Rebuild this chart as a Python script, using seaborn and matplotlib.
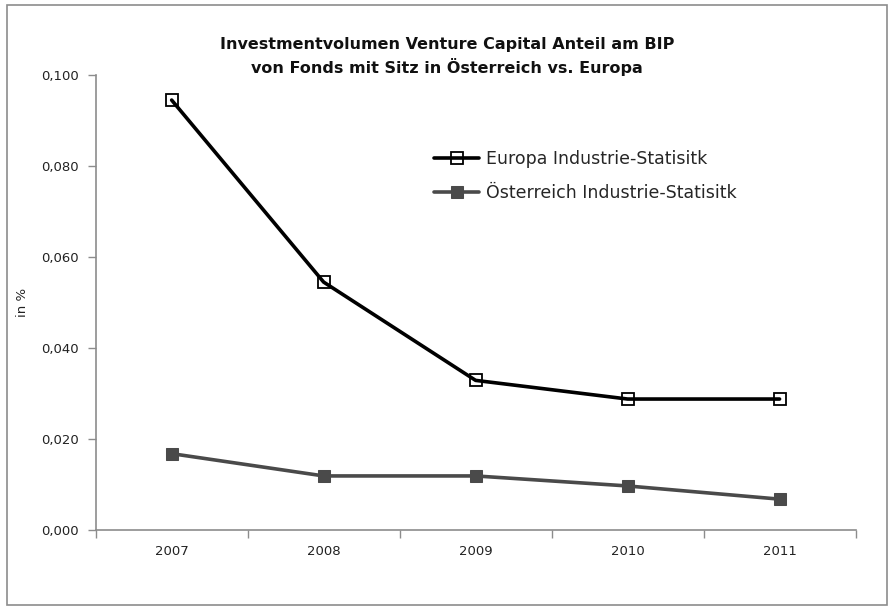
import matplotlib
matplotlib.use("Agg")
import matplotlib.pyplot as plt
import seaborn as sns
import pandas as pd
from matplotlib.patches import Rectangle
from matplotlib.ticker import FuncFormatter, FixedLocator

years = ["2007", "2008", "2009", "2010", "2011"]
europa = [0.0945, 0.0545, 0.0329, 0.0288, 0.0288]
oesterreich = [0.0168, 0.0119, 0.0119, 0.0097, 0.0068]
series_names = ["Europa Industrie-Statisitk", "Österreich Industrie-Statisitk"]

sns.set_theme(style="white")
plt.rcParams['font.family'] = ['DejaVu Sans']

fig = plt.figure(figsize=(8.94, 6.10), dpi=100)
ax = fig.add_axes([0.107, 0.131, 0.850, 0.746])

df = pd.DataFrame({
    "x": list(range(len(years))) * 2,
    "value": europa + oesterreich,
    "series": [series_names[0]] * len(years) + [series_names[1]] * len(years),
})

d1 = df[df.series == series_names[0]]
d2 = df[df.series == series_names[1]]
sns.lineplot(data=d1, x="x", y="value", ax=ax, color="black", linewidth=2.6,
             marker="s", markersize=8, markerfacecolor="none",
             markeredgecolor="black", markeredgewidth=1.3, label=series_names[0])
sns.lineplot(data=d2, x="x", y="value", ax=ax, color="#4a4a4a", linewidth=2.6,
             marker="s", markersize=9, markerfacecolor="#4a4a4a",
             markeredgecolor="#4a4a4a", label=series_names[1])

ax.set_xlim(-0.5, len(years) - 0.5)
ax.set_ylim(0, 0.1)
ax.set_yticks([0, 0.02, 0.04, 0.06, 0.08, 0.10])
ax.yaxis.set_major_formatter(FuncFormatter(lambda v, p: f"{v:.3f}".replace(".", ",")))
ax.set_xticks(range(len(years)))
ax.set_xticklabels(years)
ax.xaxis.set_minor_locator(FixedLocator([i - 0.5 for i in range(len(years) + 1)]))
ax.tick_params(axis="x", which="major", bottom=True, length=0, pad=11, labelsize=9.5, colors="#222222")
ax.tick_params(axis="x", which="minor", bottom=True, length=6, width=1, color="#8c8c8c", direction="out")
ax.tick_params(axis="y", which="major", left=True, length=6, width=1, color="#8c8c8c", direction="out",
               labelsize=9.5, labelcolor="#222222", pad=6)

for s in ["top", "right"]:
    ax.spines[s].set_visible(False)
for s in ["left", "bottom"]:
    ax.spines[s].set_color("#8c8c8c")
    ax.spines[s].set_linewidth(1.2)

ax.set_xlabel("")
ax.set_ylabel("in %", fontsize=9.5, color="#222222")
ax.yaxis.set_label_coords(-0.088, 0.5)

leg = ax.legend(loc="upper left", bbox_to_anchor=(0.425, 0.87), frameon=False,
                fontsize=12.5, handlelength=2.6, labelspacing=0.95, handletextpad=0.4)

fig.text(0.5, 0.907, "Investmentvolumen Venture Capital Anteil am BIP\nvon Fonds mit Sitz in Österreich vs. Europa",
         ha="center", va="center", fontsize=11.5, fontweight="bold", linespacing=1.4, color="#111111")

fig.patches.append(Rectangle((0.008, 0.008), 0.984, 0.984, transform=fig.transFigure,
                             fill=False, edgecolor="#8c8c8c", linewidth=1.2))

fig.savefig("out.png", dpi=100)
